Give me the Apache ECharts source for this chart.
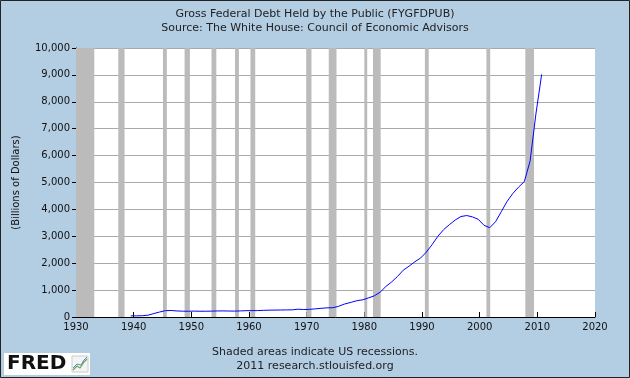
<!DOCTYPE html>
<html>
<head>
<meta charset="utf-8">
<script src="https://cdn.jsdelivr.net/npm/echarts@6/dist/echarts.min.js"></script>
<style>
  html, body { margin: 0; padding: 0; background: #b3cde3; }
  #chart { width: 630px; height: 378px; }
</style>
</head>
<body>
<div id="chart"></div>
<script>
// fiscal years and debt held by the public (billions of dollars)
const years = [
  1939, 1940, 1941, 1942, 1943, 1944, 1945, 1946, 1947, 1948, 1949,
  1950, 1951, 1952, 1953, 1954, 1955, 1956, 1957, 1958, 1959,
  1960, 1961, 1962, 1963, 1964, 1965, 1966, 1967, 1968, 1969,
  1970, 1971, 1972, 1973, 1974, 1975, 1976, 1977, 1978, 1979,
  1980, 1981, 1982, 1983, 1984, 1985, 1986, 1987, 1988, 1989,
  1990, 1991, 1992, 1993, 1994, 1995, 1996, 1997, 1998, 1999,
  2000, 2001, 2002, 2003, 2004, 2005, 2006, 2007, 2008, 2009, 2010
];
const debt = [
  41.4, 42.8, 48.2, 67.8, 127.8, 184.8, 235.2, 241.9, 224.3, 216.3, 214.3,
  219.0, 214.3, 214.8, 218.4, 224.5, 226.6, 222.2, 219.3, 226.3, 234.7,
  236.8, 238.4, 248.0, 254.0, 256.8, 260.8, 263.7, 266.6, 289.5, 278.1,
  283.2, 303.0, 322.4, 340.9, 343.7, 394.7, 477.4, 549.1, 607.1, 640.3,
  711.9, 789.4, 924.6, 1137.3, 1307.0, 1507.3, 1740.6, 1889.8, 2051.6, 2190.7,
  2411.6, 2689.0, 2999.7, 3248.4, 3433.1, 3604.4, 3734.1, 3772.3, 3721.1, 3632.4,
  3409.8, 3319.6, 3540.4, 3913.4, 4295.5, 4592.2, 4829.0, 5035.1, 5803.1, 7544.7, 9018.9
];
// US recessions (peak, trough) as decimal years
const recessionStart = [1929.58, 1937.33, 1945.08, 1948.83, 1953.5, 1957.58, 1960.25, 1969.92, 1973.83, 1980.0, 1981.5, 1990.5, 2001.17, 2007.92];
const recessionEnd   = [1933.17, 1938.42, 1945.75, 1949.75, 1954.33, 1958.25, 1961.08, 1970.83, 1975.17, 1980.5, 1982.83, 1991.17, 2001.83, 2009.42];

const yTicks = [0, 1000, 2000, 3000, 4000, 5000, 6000, 7000, 8000, 9000, 10000];

// fiscal year ends June 30 until 1976, Sep 30 afterwards
const points = years.map((y, i) => [y < 1977 ? y + 0.5 : y + 0.75, debt[i]]);
const areas = recessionStart.map((s, i) => [{ xAxis: Math.max(s, 1930) }, { xAxis: recessionEnd[i] }]);

const font = 'DejaVu Sans';
const chart = echarts.init(document.getElementById('chart'));

chart.setOption({
  backgroundColor: '#b3cde3',
  animation: false,
  textStyle: { fontFamily: font },
  title: {
    text: 'Gross Federal Debt Held by the Public (FYGFDPUB)',
    subtext: 'Source: The White House: Council of Economic Advisors',
    left: 'center',
    top: 4,
    itemGap: 3,
    textStyle: { fontSize: 11, fontWeight: 'normal', color: '#222', fontFamily: font },
    subtextStyle: { fontSize: 11, color: '#222', fontFamily: font }
  },
  grid: { left: 76, right: 35, top: 48, bottom: 61, outerBoundsMode: 'none', containLabel: false },
  xAxis: {
    type: 'value',
    min: 1930,
    max: 2020,
    interval: 10,
    axisLine: { lineStyle: { color: '#000', width: 1 } },
    axisTick: { inside: true, length: 5, lineStyle: { color: '#000' } },
    axisLabel: { color: '#111', fontSize: 10, margin: 5, formatter: v => String(v) },
    splitLine: { show: false }
  },
  yAxis: {
    type: 'value',
    min: yTicks[0],
    max: yTicks[yTicks.length - 1],
    interval: 1000,
    name: '(Billions of Dollars)',
    nameLocation: 'middle',
    nameGap: 55,
    nameTextStyle: { color: '#111', fontSize: 10 },
    axisLine: { show: true, lineStyle: { color: '#000', width: 1 } },
    axisTick: { show: true, length: 4, lineStyle: { color: '#000' } },
    axisLabel: { color: '#111', fontSize: 10, margin: 6, formatter: v => v.toLocaleString('en-US') },
    splitLine: { show: true, lineStyle: { color: '#aaaaaa', width: 1 } }
  },
  series: [{
    type: 'line',
    data: points,
    showSymbol: false,
    lineStyle: { color: '#0000ff', width: 1 },
    markArea: {
      silent: true,
      itemStyle: { color: '#bbbbbb', opacity: 1 },
      data: areas
    }
  }],
  graphic: [
    { type: 'rect', left: 76, top: 48, z: -1, shape: { width: 519, height: 269 }, style: { fill: '#ffffff' } },
    { type: 'text', left: 'center', top: 347, style: { text: 'Shaded areas indicate US recessions.', font: '11px "DejaVu Sans"', fill: '#222' } },
    { type: 'text', left: 'center', top: 361, style: { text: '2011 research.stlouisfed.org', font: '11px "DejaVu Sans"', fill: '#222' } },
    {
      type: 'group', left: 4, top: 353,
      children: [
        { type: 'rect', shape: { x: 0, y: 0, width: 86, height: 22 }, style: { fill: '#ffffff' } },
        { type: 'text', x: 3, y: 1, style: { text: 'FRED', font: 'bold 20px "DejaVu Sans"', fill: '#111' } },
        { type: 'rect', shape: { x: 68, y: 3, width: 16, height: 16 }, style: { fill: '#f4f4f4', stroke: '#cccccc' } },
        { type: 'polyline', shape: { points: [[69, 17], [73, 13], [76, 15], [80, 9], [83, 6]] }, style: { stroke: '#66aa44', lineWidth: 1.2, fill: null } },
        { type: 'polyline', shape: { points: [[69, 15], [73, 11], [77, 12], [80, 7], [83, 4]] }, style: { stroke: '#5588cc', lineWidth: 1, fill: null } }
      ]
    },
    { type: 'rect', shape: { x: 0.5, y: 0.5, width: 629, height: 377 }, style: { fill: null, stroke: '#222', lineWidth: 1 }, z: 100 }
  ]
});
</script>
</body>
</html>
